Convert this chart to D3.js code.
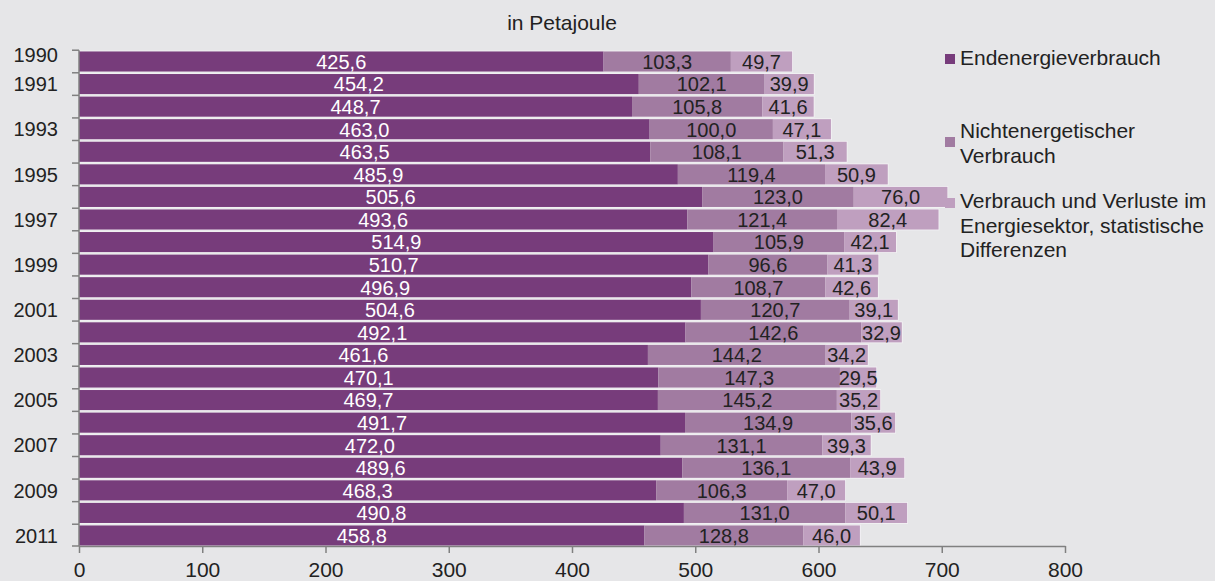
<!DOCTYPE html>
<html>
<head>
<meta charset="utf-8">
<script src="https://cdn.jsdelivr.net/npm/d3@7"></script>
<style>
  body { margin: 0; background: #e6e6e8; }
  text { font-family: "Liberation Sans", Arial, sans-serif; fill: #222; }
</style>
</head>
<body>
<div id="chart"></div>
<script>
// Data
const years = d3.range(1990, 2012).map(String);
const endenergie = [425.6, 454.2, 448.7, 463.0, 463.5, 485.9, 505.6, 493.6, 514.9, 510.7, 496.9,
                    504.6, 492.1, 461.6, 470.1, 469.7, 491.7, 472.0, 489.6, 468.3, 490.8, 458.8];
const nichtenergetisch = [103.3, 102.1, 105.8, 100.0, 108.1, 119.4, 123.0, 121.4, 105.9, 96.6, 108.7,
                          120.7, 142.6, 144.2, 147.3, 145.2, 134.9, 131.1, 136.1, 106.3, 131.0, 128.8];
const verluste = [49.7, 39.9, 41.6, 47.1, 51.3, 50.9, 76.0, 82.4, 42.1, 41.3, 42.6,
                  39.1, 32.9, 34.2, 29.5, 35.2, 35.6, 39.3, 43.9, 47.0, 50.1, 46.0];
const yearLabels = ["1990", "1991", "1993", "1995", "1997", "1999", "2001", "2003", "2005", "2007", "2009", "2011"];
const xTicks = [0, 100, 200, 300, 400, 500, 600, 700, 800];

const width = 1215, height = 581;
const margin = {top: 51, left: 79};
const keys = ["a", "b", "c"];
const colors = ["#773c7b", "#a17ba1", "#bf9fbf"];

const rows = years.map((y, i) => ({year: y, a: endenergie[i], b: nichtenergetisch[i], c: verluste[i]}));
const series = d3.stack().keys(keys)(rows);

const svg = d3.select("#chart").append("svg")
  .attr("width", width)
  .attr("height", height);

const x = d3.scaleLinear().domain([0, 800]).range([margin.left, 1065]);
const y = d3.scaleBand().domain(years).range([margin.top, 546]).paddingInner(0.11).paddingOuter(0.02);

// Title
svg.append("text")
  .attr("x", 562).attr("y", 30)
  .attr("text-anchor", "middle")
  .style("font-size", "21px")
  .text("in Petajoule");

// light outline behind each bar row
svg.append("g").selectAll("rect")
  .data(rows)
  .join("rect")
  .attr("x", x(0))
  .attr("y", d => y(d.year) - 0.8)
  .attr("width", d => x(d.a + d.b + d.c) - x(0) + 0.8)
  .attr("height", y.bandwidth() + 1.6)
  .attr("fill", "#f4f2f5");

// Bars
const layer = svg.append("g").selectAll("g")
  .data(series)
  .join("g")
  .attr("fill", (d, i) => colors[i]);

layer.selectAll("rect")
  .data(d => d)
  .join("rect")
  .attr("x", d => x(d[0]))
  .attr("y", d => y(d.data.year))
  .attr("width", d => x(d[1]) - x(d[0]))
  .attr("height", y.bandwidth());

// Value labels
layer.selectAll("text")
  .data((d, i) => d.map(v => ({v, i})))
  .join("text")
  .attr("x", d => (x(d.v[0]) + x(d.v[1])) / 2)
  .attr("y", d => y(d.v.data.year) + y.bandwidth() / 2)
  .attr("dy", "0.37em")
  .attr("text-anchor", "middle")
  .style("font-size", "20px")
  .style("fill", d => d.i === 0 ? "#ffffff" : "#222")
  .text(d => d3.format(".1f")(d.v[1] - d.v[0]).replace(".", ","));

// X axis
const xAxis = svg.append("g")
  .attr("transform", "translate(0,546)")
  .call(d3.axisBottom(x).tickValues(xTicks).tickSize(7).tickSizeOuter(0));
xAxis.select(".domain").attr("stroke", "#808080").attr("stroke-width", 1.5);
xAxis.selectAll(".tick line").attr("stroke", "#808080").attr("stroke-width", 1.5);
xAxis.selectAll(".tick text").attr("y", 16).style("font-size", "21px").style("fill", "#222")
  .style("font-family", "Liberation Sans, Arial, sans-serif");

// Y axis: line and ticks at band boundaries
const step = y.step();
const bounds = years.map(yr => y(yr) - (step - y.bandwidth()) / 2).concat([546]);
svg.append("line")
  .attr("x1", margin.left).attr("x2", margin.left)
  .attr("y1", bounds[0]).attr("y2", 546)
  .attr("stroke", "#808080").attr("stroke-width", 1.5);
svg.append("g").selectAll("line")
  .data(bounds)
  .join("line")
  .attr("x1", margin.left - 7).attr("x2", margin.left)
  .attr("y1", d => d).attr("y2", d => d)
  .attr("stroke", "#808080").attr("stroke-width", 1.5);

svg.append("g").selectAll("text")
  .data(yearLabels)
  .join("text")
  .attr("x", 58)
  .attr("y", d => y(d) + y.bandwidth() / 2 - (d === "1990" ? 7 : 0))
  .attr("dy", "0.36em")
  .attr("text-anchor", "end")
  .style("font-size", "20px")
  .text(d => d);

// Legend
const legendItems = [
  {lines: ["Endenergieverbrauch"], base: 65, sq: 59},
  {lines: ["Nichtenergetischer", "Verbrauch"], base: 138, sq: 142},
  {lines: ["Verbrauch und Verluste im", "Energiesektor, statistische", "Differenzen"], base: 208, sq: 203}
];
const legend = svg.append("g");
legendItems.forEach((item, i) => {
  legend.append("rect")
    .attr("x", 945).attr("y", item.sq - 5)
    .attr("width", 10).attr("height", 10)
    .attr("fill", colors[i]);
  const t = legend.append("text")
    .attr("x", 960).attr("y", item.base)
    .style("font-size", "21px");
  item.lines.forEach((ln, j) => {
    t.append("tspan").attr("x", 960).attr("dy", j === 0 ? 0 : 24.5).text(ln);
  });
});
</script>
</body>
</html>
